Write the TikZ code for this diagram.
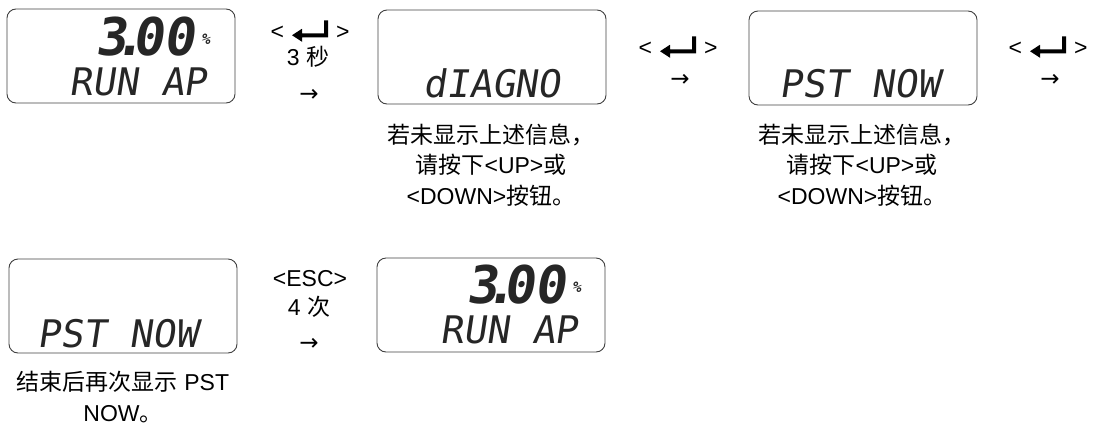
\documentclass[tikz,border=0pt]{standalone}
\usepackage{fontspec}
\setmainfont{Liberation Sans}
\newfontfamily\cjk{Noto Sans CJK SC}
\newfontfamily\symfont{DejaVu Sans}
\newfontfamily\lcdfont[FakeSlant=0.15]{DejaVu Sans Mono}
% enter key symbol
\newcommand{\entkey}{\hspace{8pt}\tikz[baseline=-1.5pt, x=1pt, y=1pt]
  \fill (0,3) -- (10,9.5) -- (10,5) -- (32,5) -- (32,18) -- (36,18)
    -- (36,1) -- (10,1) -- (10,-3.5) -- cycle;\hspace{8pt}}
\tikzset{
  lcd/.style={draw=black!75, line width=0.9pt, rounded corners=9pt,
    minimum width=228pt, minimum height=94pt, inner sep=0pt},
  segbig/.style={font=\lcdfont\bfseries\fontsize{52}{52}\selectfont,
    text=black!85, inner sep=0pt, anchor=base east},
  segpct/.style={font=\lcdfont\bfseries\fontsize{15}{15}\selectfont,
    text=black!85, inner sep=0pt, anchor=base west},
  seg/.style={font=\lcdfont\fontsize{38}{38}\selectfont,
    text=black!85, inner sep=0pt, anchor=base},
  note/.style={font=\fontsize{23}{30.5}\selectfont, align=center, inner sep=0pt},
  keylbl/.style={font=\fontsize{23}{26}\selectfont, inner sep=0pt}
}

\begin{document}
\begin{tikzpicture}[x=1pt, y=-1pt]
  \useasboundingbox (0,0) rectangle (1094,426);

  % top row: displays
  \node[lcd] (disp1) at (121,56) {};
  \node[segbig] (val1) at (195,55) {3\kern-.25em.\kern-.25em00};
  \node[segpct] (pct1) at (201,44) {\%};
  \node[seg, anchor=base east] (run1) at (207,95) {RUN AP};

  \node[lcd] (disp2) at (492,57) {};
  \node[seg] (diag) at (492,97) {dIAGNO};

  \node[lcd] (disp3) at (863,58) {};
  \node[seg] (pst1) at (860,97) {PST NOW};

  % top row: key labels
  \node[keylbl] (key1) at (310,31) {<\entkey>};
  \node[keylbl] (sec1) at (308,57) {3 {\cjk 秒}};
  \node[keylbl] (arr1) at (309,95) {\symfont →};

  \node[keylbl] (key2) at (678,47) {<\entkey>};
  \node[keylbl] (arr2) at (680,80) {\symfont →};

  \node[keylbl] (key3) at (1048,47) {<\entkey>};
  \node[keylbl] (arr3) at (1050,80) {\symfont →};

  % top row: notes
  \node[note] (note2) at (491,165)
    {{\cjk 若未显示上述信息，}\\{\cjk 请按下}<UP>{\cjk 或}\\<DOWN>{\cjk 按钮。}};
  \node[note] (note3) at (862,165)
    {{\cjk 若未显示上述信息，}\\{\cjk 请按下}<UP>{\cjk 或}\\<DOWN>{\cjk 按钮。}};

  % bottom row
  \node[lcd] (disp4) at (123,306) {};
  \node[seg] (pst2) at (118,347) {PST NOW};
  \node[note] (note4) at (123,397) {{\cjk 结束后再次显示} PST\\NOW{\cjk 。}};

  \node[keylbl] (esc) at (310,279) {<ESC>};
  \node[keylbl] (cnt) at (309,307) {4 {\cjk 次}};
  \node[keylbl] (arr4) at (309,344) {\symfont →};

  \node[lcd] (disp5) at (491,305) {};
  \node[segbig] (val2) at (566,303) {3\kern-.25em.\kern-.25em00};
  \node[segpct] (pct2) at (572,292) {\%};
  \node[seg, anchor=base east] (run2) at (578,343) {RUN AP};
\end{tikzpicture}
\end{document}
